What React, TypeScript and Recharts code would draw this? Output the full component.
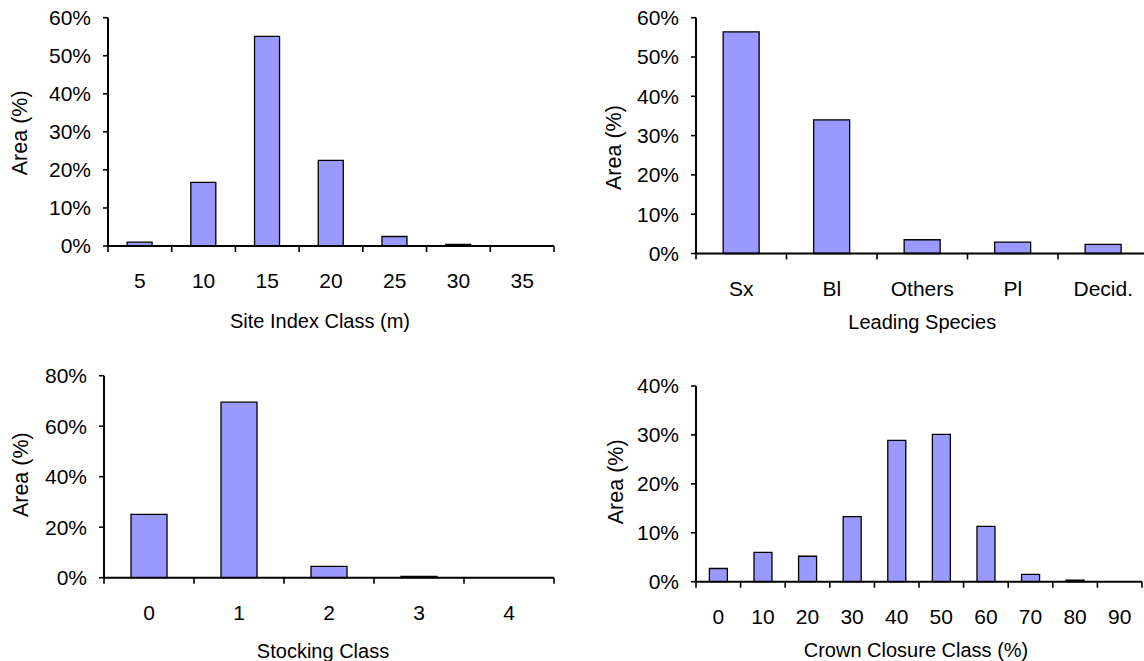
import { BarChart, Bar, XAxis, YAxis, Label } from 'recharts';

const siteIndexClasses = ['5', '10', '15', '20', '25', '30', '35'];
const siteIndexArea = [1.0, 16.7, 55.1, 22.5, 2.5, 0.4, 0];

const speciesClasses = ['Sx', 'Bl', 'Others', 'Pl', 'Decid.'];
const speciesArea = [56.4, 34.0, 3.5, 2.9, 2.3];

const stockingClasses = ['0', '1', '2', '3', '4'];
const stockingArea = [25.1, 69.5, 4.5, 0.5, 0];

const crownClasses = ['0', '10', '20', '30', '40', '50', '60', '70', '80', '90'];
const crownArea = [2.7, 6.0, 5.2, 13.3, 28.9, 30.1, 11.3, 1.5, 0.3, 0];

const ticks60 = [0, 10, 20, 30, 40, 50, 60];
const ticks80 = [0, 20, 40, 60, 80];
const ticks40 = [0, 10, 20, 30, 40];

const FONT = '"Liberation Sans", Arial, sans-serif';
const BAR_FILL = '#9999ff';

interface PanelProps {
  left: number;
  top: number;
  width: number;
  height: number;
  marginTop: number;
  marginRight: number;
  yWidth: number;
  xHeight: number;
  classes: string[];
  values: number[];
  yTicks: number[];
  xTitle: string;
  xTitleDx: number;
  xTitleDy: number;
  yTitleX: number;
  yTitleDy: number;
}

function Panel(p: PanelProps) {
  const data = p.classes.map((c, i) => ({ cls: c, area: p.values[i] }));
  const plotW = p.width - p.yWidth - p.marginRight;
  const half = plotW / p.classes.length / 2;
  const n = p.classes.length;

  // Excel-style ticks: marks on category boundaries, label in the middle
  const EdgeTick = (t: any) => {
    const { x, y, payload, index } = t;
    return (
      <g>
        <line x1={x - half} x2={x - half} y1={y} y2={y + 6} stroke="#000" strokeWidth={1.6} />
        {index === n - 1 && (
          <line x1={x + half} x2={x + half} y1={y} y2={y + 6} stroke="#000" strokeWidth={1.6} />
        )}
        <text x={x} y={y + 42} textAnchor="middle" fontSize={21} fontFamily={FONT} fill="#000">
          {payload.value}
        </text>
      </g>
    );
  };

  const xTitle = (l: any) => {
    const vb = l.viewBox;
    return (
      <text
        x={vb.x + vb.width / 2 + p.xTitleDx}
        y={vb.y + p.xTitleDy}
        textAnchor="middle"
        fontSize={20}
        fontFamily={FONT}
        fill="#000"
      >
        {p.xTitle}
      </text>
    );
  };

  const yTitle = (l: any) => {
    const vb = l.viewBox;
    const cy = vb.y + vb.height / 2 + p.yTitleDy;
    return (
      <text
        x={p.yTitleX}
        y={cy}
        transform={`rotate(-90 ${p.yTitleX} ${cy})`}
        textAnchor="middle"
        dominantBaseline="central"
        fontSize={21.5}
        fontFamily={FONT}
        fill="#000"
      >
        Area (%)
      </text>
    );
  };

  return (
    <div style={{ position: 'absolute', left: p.left, top: p.top }}>
      <BarChart
        width={p.width}
        height={p.height}
        data={data}
        margin={{ top: p.marginTop, right: p.marginRight, left: 0, bottom: 0 }}
        barCategoryGap="30%"
      >
        <XAxis
          dataKey="cls"
          height={p.xHeight}
          interval={0}
          tickLine={false}
          tickSize={0}
          tickMargin={0}
          axisLine={{ stroke: '#000', strokeWidth: 2 }}
          tick={EdgeTick}
        >
          <Label content={xTitle} />
        </XAxis>
        <YAxis
          width={p.yWidth}
          domain={[0, p.yTicks[p.yTicks.length - 1]]}
          ticks={p.yTicks}
          interval={0}
          tickFormatter={(v: number) => `${v}%`}
          axisLine={{ stroke: '#000', strokeWidth: 2 }}
          tickLine={{ stroke: '#000', strokeWidth: 1.6 }}
          tickSize={5}
          tickMargin={12}
          tick={{ fill: '#000', fontSize: 21, fontFamily: FONT }}
        >
          <Label content={yTitle} />
        </YAxis>
        <Bar dataKey="area" fill={BAR_FILL} stroke="#000" strokeWidth={1.3} isAnimationActive={false} />
      </BarChart>
    </div>
  );
}

export default function App() {
  return (
    <div
      style={{
        position: 'absolute',
        left: 0,
        top: 0,
        width: 1144,
        height: 661,
        overflow: 'hidden',
        background: '#fff',
      }}
    >
      <Panel
        left={0} top={0} width={570} height={336}
        marginTop={17.7} marginRight={16} yWidth={108} xHeight={90}
        classes={siteIndexClasses} values={siteIndexArea} yTicks={ticks60}
        xTitle="Site Index Class (m)" xTitleDx={-11} xTitleDy={82}
        yTitleX={19.6} yTitleDy={1}
      />
      <Panel
        left={580} top={0} width={580} height={336}
        marginTop={17.7} marginRight={11.5} yWidth={116} xHeight={336 - 253.5}
        classes={speciesClasses} values={speciesArea} yTicks={ticks60}
        xTitle="Leading Species" xTitleDx={0} xTitleDy={75}
        yTitleX={34} yTitleDy={12}
      />
      <Panel
        left={0} top={330} width={570} height={331}
        marginTop={45.7} marginRight={16} yWidth={104} xHeight={331 - 247.7}
        classes={stockingClasses} values={stockingArea} yTicks={ticks80}
        xTitle="Stocking Class" xTitleDx={-6} xTitleDy={80}
        yTitleX={21.4} yTitleDy={-2}
      />
      <Panel
        left={580} top={330} width={580} height={331}
        marginTop={56} marginRight={18} yWidth={116} xHeight={331 - 251.7}
        classes={crownClasses} values={crownArea} yTicks={ticks40}
        xTitle="Crown Closure Class (%)" xTitleDx={-3} xTitleDy={75}
        yTitleX={36} yTitleDy={-2}
      />
    </div>
  );
}
